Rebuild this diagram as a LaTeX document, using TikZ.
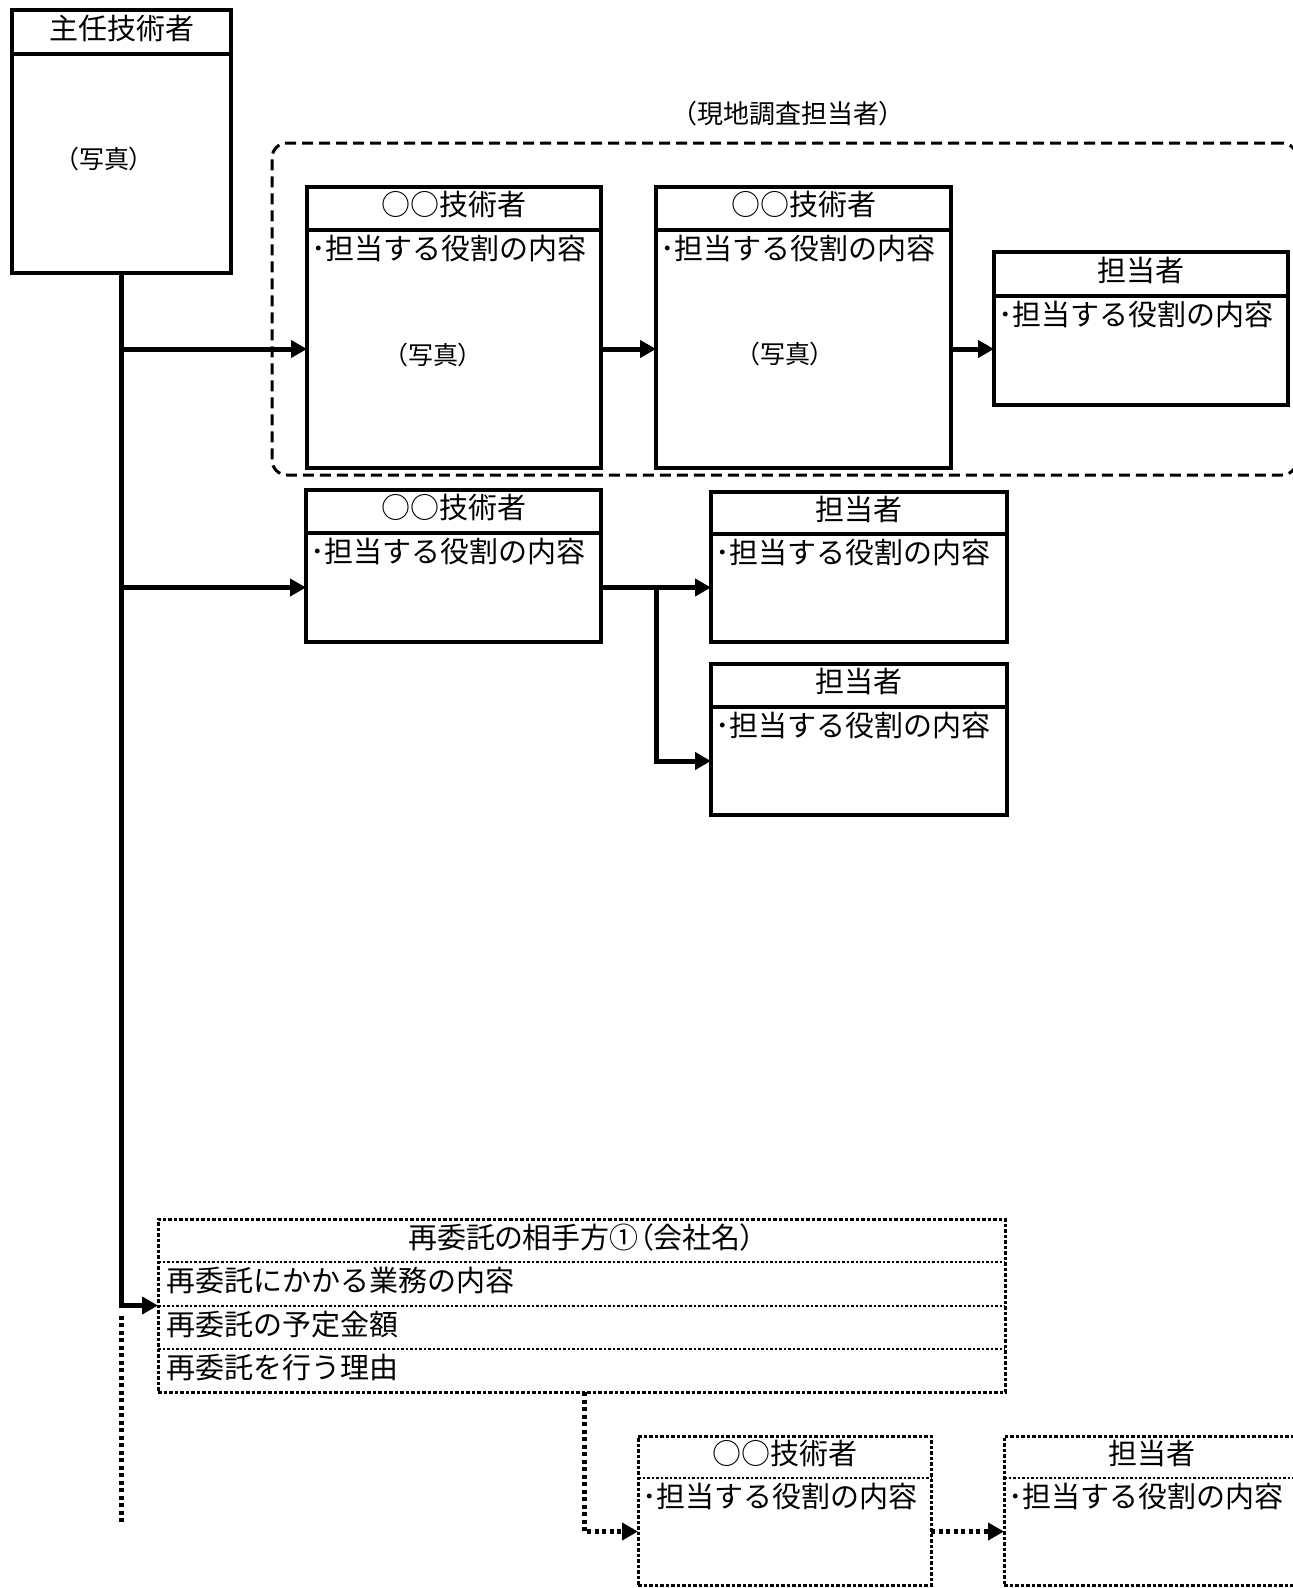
\documentclass[tikz,border=0pt]{standalone}
\usepackage{fontspec}
\setmainfont{Noto Sans CJK JP}
\newfontfamily\propjp[RawFeature=+palt]{Noto Sans CJK JP}
\usetikzlibrary{arrows.meta,positioning}

\begin{document}
\begin{tikzpicture}[
        x=1pt, y=-1pt,
        hd/.style={draw, line width=3.5pt, minimum height=43pt, inner sep=0pt, text depth=10pt,
                   outer sep=0pt, anchor=north west, font=\fontsize{29}{34}\selectfont},
        bd/.style={draw, line width=3.5pt, inner sep=0pt, outer sep=0pt},
        dhd/.style={hd, draw=none},
        dbd/.style={bd, draw=none},
        role/.style={anchor=base west, inner sep=0pt, font=\fontsize{29}{34}\selectfont},
        photo/.style={inner sep=0pt, font=\propjp\fontsize{25}{30}\selectfont},
        grpbox/.style={draw, line width=3pt, dash pattern=on 11pt off 6pt,
                       rounded corners=15pt, inner sep=0pt, outer sep=0pt, anchor=north west},
        subrow/.style={minimum width=847pt, text width=831pt, inner xsep=8pt, inner ysep=0pt,
                       text depth=9pt, outer sep=0pt, align=left, font=\fontsize{29}{34}\selectfont},
        frame/.style={draw, line width=3pt, dash pattern=on 3.5pt off 2pt, inner sep=0pt,
                      outer sep=0pt, anchor=north west},
        sepline/.style={line width=2pt, dash pattern=on 2.5pt off 2pt},
        arr/.style={-{Triangle[length=16pt,width=17pt]}, line width=5pt},
        dotline/.style={line width=5pt, dash pattern=on 4pt off 3.5pt},
        dotarr/.style={arr, dash pattern=on 4pt off 3.5pt}
      ]
      \useasboundingbox (0,0) rectangle (1293,1588);
      \clip (0,0) rectangle (1293,1588);

      \node[hd, minimum width=219pt, minimum height=44pt] (leadHd) at (12,10) {主任技術者};
      \node[bd, minimum width=219pt, minimum height=219pt, below=0pt of leadHd] (leadBd) {};
      \node[photo] (leadPh) at (104,159) {（写真）};

      \node[grpbox, minimum width=1025pt, minimum height=332pt] (grp) at (272,143) {};
      \node[photo, font=\propjp\fontsize{26}{30}\selectfont] (grpLbl) at (788,114) {（現地調査担当者）};

      \node[hd, minimum width=294pt] (techAHd) at (307,187) {○○技術者};
      \node[bd, minimum width=294pt, minimum height=238pt, below=0pt of techAHd] (techABd) {};
      \node[role] (techARole) at ([shift={(4,29)}]techABd.north west) {･担当する役割の内容};
      \node[photo] (techAPh) at (433,355) {（写真）};

      \node[hd, minimum width=295pt] (techBHd) at (656,187) {○○技術者};
      \node[bd, minimum width=295pt, minimum height=238pt, below=0pt of techBHd] (techBBd) {};
      \node[role] (techBRole) at ([shift={(4,29)}]techBBd.north west) {･担当する役割の内容};
      \node[photo] (techBPh) at (785,354) {（写真）};

      \node[hd, minimum width=294pt, minimum height=44pt] (staffCHd) at (994,252) {担当者};
      \node[bd, minimum width=294pt, minimum height=109pt, below=0pt of staffCHd] (staffCBd) {};
      \node[role] (staffCRole) at ([shift={(4,29)}]staffCBd.north west) {･担当する役割の内容};

      \node[hd, minimum width=295pt] (techDHd) at (306,490) {○○技術者};
      \node[bd, minimum width=295pt, minimum height=109pt, below=0pt of techDHd] (techDBd) {};
      \node[role] (techDRole) at ([shift={(4,29)}]techDBd.north west) {･担当する役割の内容};

      \node[hd, minimum width=296pt, minimum height=42pt] (staffEHd) at (711,492) {担当者};
      \node[bd, minimum width=296pt, minimum height=108pt, below=0pt of staffEHd] (staffEBd) {};
      \node[role] (staffERole) at ([shift={(4,29)}]staffEBd.north west) {･担当する役割の内容};

      \node[hd, minimum width=296pt] (staffFHd) at (711,664) {担当者};
      \node[bd, minimum width=296pt, minimum height=108pt, below=0pt of staffFHd] (staffFBd) {};
      \node[role] (staffFRole) at ([shift={(4,29)}]staffFBd.north west) {･担当する役割の内容};

      \node[frame, minimum width=847pt, minimum height=173pt] (sub) at (158,1219) {};
      \node[subrow, anchor=north west, minimum height=43pt, align=center,
            font=\propjp\fontsize{29}{34}\selectfont] (subHd) at (158,1219) {再委託の相手方①（会社名）};
      \node[subrow, minimum height=44pt, below=0pt of subHd] (subR1) {再委託にかかる業務の内容};
      \node[subrow, minimum height=43pt, below=0pt of subR1] (subR2) {再委託の予定金額};
      \node[subrow, minimum height=43pt, below=0pt of subR2] (subR3) {再委託を行う理由};
      \draw[sepline] (subHd.south west) -- (subHd.south east);
      \draw[sepline] (subR1.south west) -- (subR1.south east);
      \draw[sepline] (subR2.south west) -- (subR2.south east);

      \node[frame, minimum width=293pt, minimum height=149pt] (techG) at (638,1436) {};
      \node[dhd, minimum width=293pt, minimum height=42pt] (techGHd) at (638,1436) {○○技術者};
      \node[dbd, minimum width=293pt, minimum height=107pt, below=0pt of techGHd] (techGBd) {};
      \node[role] (techGRole) at ([shift={(4,29)}]techGBd.north west) {･担当する役割の内容};
      \draw[sepline] (techGHd.south west) -- (techGHd.south east);

      \node[frame, minimum width=296pt, minimum height=149pt] (staffH) at (1004,1436) {};
      \node[dhd, minimum width=296pt, minimum height=42pt] (staffHHd) at (1004,1436) {担当者};
      \node[dbd, minimum width=296pt, minimum height=107pt, below=0pt of staffHHd] (staffHBd) {};
      \node[role] (staffHRole) at ([shift={(4,29)}]staffHBd.north west) {･担当する役割の内容};
      \draw[sepline] (staffHHd.south west) -- (staffHHd.south east);

      \coordinate (trunkTurn) at (leadBd.south |- sub.west);
      \coordinate (trunkEnd) at (leadBd.south |- 0,1522);

      \draw[arr] (leadBd.south) |- (sub.west);
      \draw[arr] (leadBd.south |- techABd.west) -- (techABd.west);
      \draw[arr] (techABd.east) -- (techABd.east -| techBBd.west);
      \draw[arr] (techBBd.east) -- (techBBd.east -| staffCBd.west);
      \draw[arr] (leadBd.south |- techDBd.west) -- (techDBd.west);
      \draw[arr] (techDBd.east) -- (techDBd.east -| staffEBd.west);
      \draw[arr] (techDBd.east) -- ([xshift=55pt]techDBd.east) |- (staffFBd.west);
      \draw[dotline] ([yshift=-10pt]trunkTurn) -- (trunkEnd);
      \draw[dotarr] ([xshift=2.5pt]sub.south) |- (techGBd.west);
      \draw[dotarr] (techGBd.east) -- (techGBd.east -| staffH.west);
    \end{tikzpicture}
\end{document}
